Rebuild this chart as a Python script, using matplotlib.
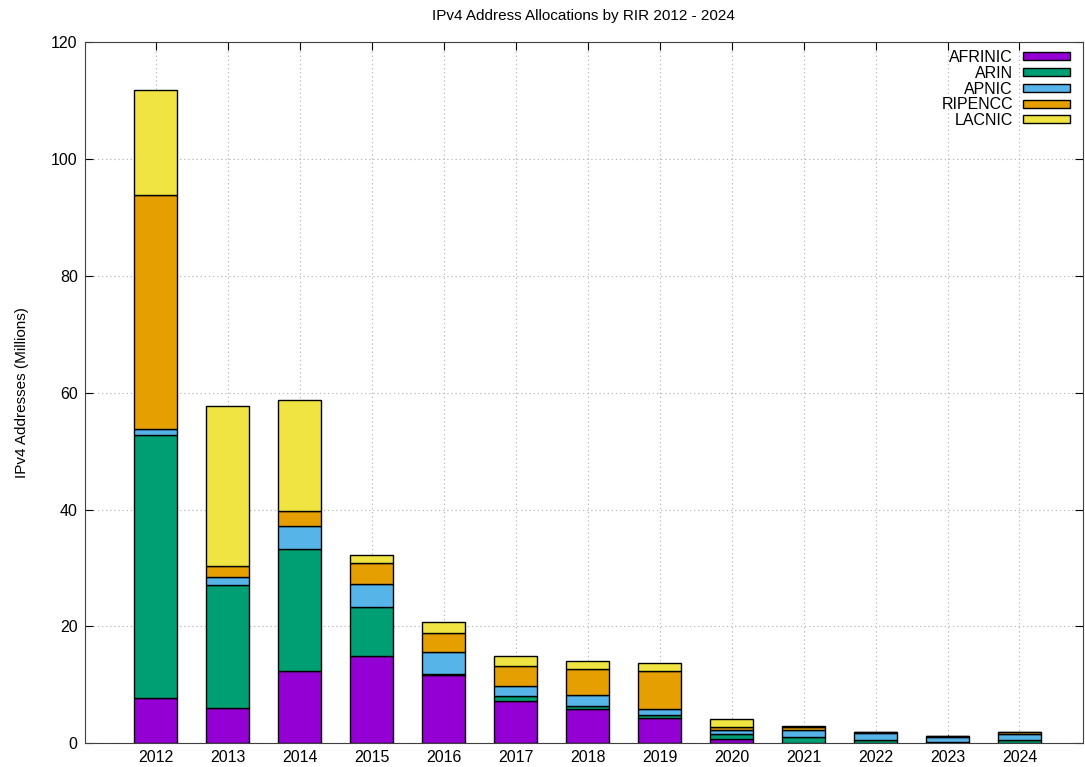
import matplotlib
matplotlib.use('Agg')
from matplotlib import pyplot as plt
import numpy as np

plt.rcParams['font.family'] = ['Liberation Sans', 'DejaVu Sans']

years = ['2012', '2013', '2014', '2015', '2016', '2017', '2018',
         '2019', '2020', '2021', '2022', '2023', '2024']
afrinic = [7.8, 6.1, 12.3, 15.0, 11.6, 7.2, 5.9, 4.4, 0.8, 0.1, 0.1, 0.05, 0.1]
arin = [45.0, 20.9, 21.0, 8.3, 0.3, 0.8, 0.5, 0.5, 0.7, 0.9, 0.4, 0.15, 0.4]
apnic = [1.0, 1.4, 3.8, 4.0, 3.7, 1.8, 1.8, 1.0, 0.8, 1.2, 1.2, 0.95, 1.1]
ripencc = [40.1, 1.9, 2.6, 3.5, 3.3, 3.5, 4.5, 6.4, 0.4, 0.6, 0.2, 0.15, 0.3]
lacnic = [17.9, 27.4, 19.0, 1.4, 1.8, 1.7, 1.3, 1.4, 1.4, 0.2, 0.05, 0.02, 0.05]

series = [('AFRINIC', afrinic, '#9400d3'),
          ('ARIN', arin, '#009e73'),
          ('APNIC', apnic, '#56b4e9'),
          ('RIPENCC', ripencc, '#e69f00'),
          ('LACNIC', lacnic, '#f0e442')]

fig = plt.figure(figsize=(10.85, 7.67), dpi=100)
ax = fig.add_axes([0.078, 0.031, 0.92, 0.914])

x = np.arange(len(years))
bottom = np.zeros(len(years))
for name, vals, col in series:
    ax.bar(x, vals, 0.6, bottom=bottom, color=col, edgecolor='black',
           linewidth=1, label=name, zorder=3)
    bottom += np.array(vals)

ax.set_xlim(-0.99, 12.88)
ax.set_ylim(0, 120)
ax.set_xticks(x)
ax.set_xticklabels(years)
ax.set_yticks(range(0, 121, 20))
ax.tick_params(direction='in', top=True, right=True, length=6,
               labelsize=11.5, pad=5)
for s in ax.spines.values():
    s.set_color('#404040')
ax.grid(True, linestyle=(0, (1.2, 2.5)), color='#b8b8b8', linewidth=0.8, zorder=0)
ax.set_title('IPv4 Address Allocations by RIR 2012 - 2024', fontsize=11, pad=16)
ax.set_ylabel('IPv4 Addresses (Millions)', fontsize=11, labelpad=16)

leg = ax.legend(loc='upper right', frameon=False, markerfirst=False,
                fontsize=11.5, handlelength=3.0, handleheight=0.4,
                labelspacing=0.05, borderaxespad=0.0, handletextpad=0.6,
                bbox_to_anchor=(0.994, 0.998))
for t in leg.get_texts():
    t.set_ha('right')

fig.savefig('out.png')
